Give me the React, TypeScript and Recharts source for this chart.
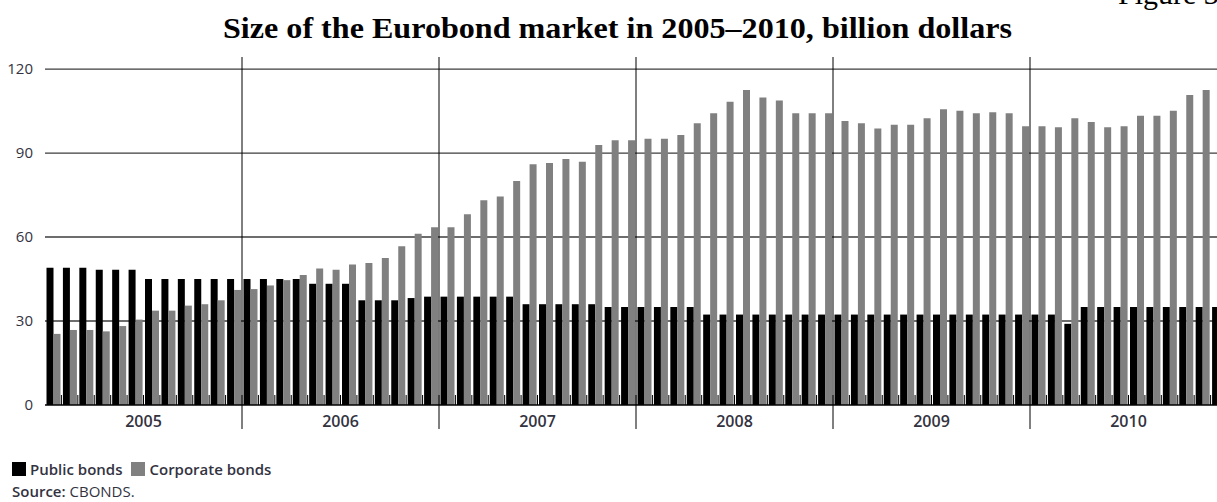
import React from 'react';
import { BarChart, Bar, XAxis, YAxis, CartesianGrid, ReferenceLine } from 'recharts';

// Years shown on the category axis, one band per month
const years = [2005, 2006, 2007, 2008, 2009, 2010];
const months = years.flatMap((y) =>
    Array.from({ length: 12 }, (_, i) => `${y}-${String(i + 1).padStart(2, '0')}`)
);

// Public bonds, billion dollars (Jan..Dec per row)
const publicBonds = [
    49, 49, 49, 48.3, 48.3, 48.3, 45, 45, 45, 45, 45, 45, // 2005
    45, 45, 45, 45, 43.3, 43.3, 43.3, 37.4, 37.4, 37.4, 38.2, 38.7, // 2006
    38.7, 38.7, 38.7, 38.7, 38.7, 36, 36, 36, 36, 36, 35, 35, // 2007
    35, 35, 35, 35, 32.3, 32.3, 32.3, 32.3, 32.3, 32.3, 32.3, 32.3, // 2008
    32.3, 32.3, 32.3, 32.3, 32.3, 32.3, 32.3, 32.3, 32.3, 32.3, 32.3, 32.3, // 2009
    32.3, 32.3, 29, 35, 35, 35, 35, 35, 35, 35, 35, 35, // 2010
];

// Corporate bonds, billion dollars
const corporateBonds = [
    25.4, 26.8, 26.8, 26.3, 28.2, 30.5, 33.7, 33.7, 35.5, 36, 37.4, 41.1, // 2005
    41.4, 42.7, 44.6, 46.4, 48.8, 48.3, 50.2, 50.7, 52.5, 56.7, 61.2, 63.5, // 2006
    63.5, 68.1, 73.1, 74.5, 80, 86, 86.4, 87.9, 86.9, 92.9, 94.6, 94.6, // 2007
    95.1, 95.1, 96.4, 100.6, 104.2, 108.3, 112.5, 109.8, 108.8, 104.2, 104.2, 104.2, // 2008
    101.4, 100.6, 98.8, 100.1, 100.1, 102.4, 105.6, 105.1, 104.2, 104.6, 104.2, 99.6, // 2009
    99.6, 99.2, 102.4, 101.1, 99.2, 99.6, 103.3, 103.3, 105.1, 110.7, 112.5, 112, // 2010
];

const yTicks = [0, 30, 60, 90, 120];

const chartData = months.map((m, i) => ({
    month: m,
    pub: publicBonds[i],
    corp: corporateBonds[i],
}));

const FONT = '"Open Sans", "Noto Sans", sans-serif';
const TEXT = '#33333f';

// month tick: small inner mark at band boundary, year label in mid-year
const MonthTick = (props: any) => {
    const { x, y, payload } = props;
    const half = payload?.offset ?? 8.2;
    const idx = months.indexOf(payload.value);
    return (
        <g>
            <line x1={x + half} y1={y - 10} x2={x + half} y2={y} stroke="#000" strokeWidth={1} />
            {idx % 12 === 6 && (
                <text
                    x={x - half}
                    y={y + 22}
                    textAnchor="middle"
                    fontFamily={FONT}
                    fontWeight={600}
                    fontSize={16}
                    fill={TEXT}
                >
                    {payload.value.slice(0, 4)}
                </text>
            )}
        </g>
    );
};

// year separator, runs a little below the axis
const YearLine = (p: any) => {
    const top = Math.min(p.y1, p.y2);
    const bottom = Math.max(p.y1, p.y2);
    return <line x1={p.x1} y1={top} x2={p.x2} y2={bottom + 24} stroke="#000" strokeWidth={1} />;
};

const App: React.FC = () => {
    return (
        <div
            style={{
                position: 'fixed',
                left: 0,
                top: 0,
                width: 1217,
                height: 502,
                overflow: 'hidden',
                background: '#fff',
            }}
        >
            <svg width={1217} height={56} style={{ position: 'absolute', left: 0, top: 0 }}>
                <text
                    x={223}
                    y={38}
                    textLength={789}
                    lengthAdjust="spacingAndGlyphs"
                    fontFamily='"Liberation Serif", "Times New Roman", serif'
                    fontWeight="bold"
                    fontSize={29}
                    fill="#000"
                >
                    Size of the Eurobond market in 2005–2010, billion dollars
                </text>
                <text
                    x={1118}
                    y={4}
                    fontFamily='"Liberation Serif", "Times New Roman", serif'
                    fontSize={30}
                    fill="#000"
                >
                    Figure 3
                </text>
            </svg>

            <div style={{ position: 'absolute', left: 0, top: 0 }}>
                <BarChart
                    width={1230}
                    height={440}
                    data={chartData}
                    margin={{ top: 57, right: 3, bottom: 5, left: 0 }}
                    barGap={0}
                    barCategoryGap={1.5}
                >
                    <CartesianGrid
                        vertical={false}
                        horizontalValues={[30, 60, 90, 120]}
                        stroke="#3c3c3c"
                        strokeWidth={1.3}
                    />
                    <XAxis
                        dataKey="month"
                        height={30}
                        interval={0}
                        tickSize={0}
                        tickMargin={0}
                        tickLine={false}
                        axisLine={{ stroke: '#000', strokeWidth: 1.3 }}
                        tick={<MonthTick />}
                    />
                    <YAxis
                        width={45}
                        domain={[0, 124.3]}
                        ticks={yTicks}
                        axisLine={false}
                        tickLine={false}
                        tickMargin={6}
                        tick={{ fontFamily: FONT, fontSize: 15, fill: TEXT }}
                    />
                    <Bar dataKey="pub" fill="#000" isAnimationActive={false} />
                    <Bar dataKey="corp" fill="#808080" isAnimationActive={false} />
                    {years.slice(1).map((y) => (
                        <ReferenceLine
                            key={y}
                            x={`${y}-01`}
                            position="start"
                            stroke="#000"
                            ifOverflow="visible"
                            shape={YearLine}
                        />
                    ))}
                </BarChart>
            </div>

            <div
                style={{
                    position: 'absolute',
                    left: 12,
                    top: 458,
                    fontFamily: FONT,
                    fontSize: 15,
                    color: TEXT,
                    lineHeight: '22px',
                }}
            >
                <div style={{ display: 'flex', alignItems: 'center', fontWeight: 600 }}>
                    <span style={{ display: 'inline-block', width: 14, height: 14, background: '#000', marginRight: 4 }} />
                    <span style={{ marginRight: 9 }}>Public bonds</span>
                    <span style={{ display: 'inline-block', width: 14, height: 14, background: '#808080', marginRight: 4 }} />
                    <span>Corporate bonds</span>
                </div>
                <div>
                    <span style={{ fontWeight: 600 }}>Source:</span> CBONDS.
                </div>
            </div>
        </div>
    );
};

export default App;
